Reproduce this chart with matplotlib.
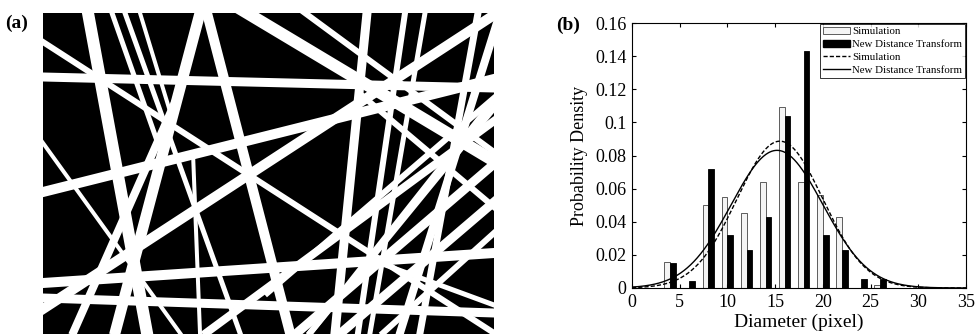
import numpy as np
import matplotlib
matplotlib.use("Agg")
import matplotlib.pyplot as plt
from matplotlib.patches import Patch
from matplotlib.lines import Line2D

plt.rcParams["font.family"] = ["Liberation Serif", "DejaVu Serif"]

# ---- panel (a): fibre image, endpoints in image pixels (x0, y0, x1, y1) and width ----
fib_x0 = [43, 43, 43, 43, 43, 43, 200, 207, 247, 43, 298, 342, 265, 88, 125, 405, 367, 478,
          305, 383, 359, 369, 73, 193, 112, 140, 500, 206, 425, 494, 310]
fib_y0 = [42, 77, 192, 283, 298, 143, 13, 13, 13, 309, 332, 332, 295, 13, 13, 13, 13, 13,
          13, 333, 93, 259, 333, 153, 13, 13, 13, 333, 13, 100, 333]
fib_x1 = [494, 494, 494, 494, 494, 180, 115, 290, 494, 494, 494, 494, 494, 147, 240, 358, 335, 420,
          494, 494, 494, 494, 177, 200, 162, 172, 400, 494, 370, 310, 494]
fib_y1 = [333, 88, 79, 253, 313, 333, 333, 333, 161, 15, 164, 202, 98, 333, 333, 333, 333, 333,
          152, 233, 207, 305, 98, 333, 155, 118, 333, 121, 333, 333, 108]
fib_w = [6, 9, 10, 10, 9, 4, 11, 10, 12, 10, 9, 9, 6, 12, 5, 6, 9, 7,
         6, 6, 6, 5, 8, 4, 5, 4, 8, 8, 5, 6, 6]

# ---- panel (b): histogram ----
bins = [4, 6, 8, 10, 12, 14, 16, 18, 20, 22, 24, 26]
sim_density = [0.016, 0.0, 0.050, 0.055, 0.045, 0.064, 0.109, 0.064, 0.056, 0.043, 0.0, 0.002]
ndt_density = [0.015, 0.004, 0.072, 0.032, 0.023, 0.043, 0.104, 0.143, 0.032, 0.023, 0.0054, 0.0054]
sim_mu, sim_sigma = 15.5, 4.5
ndt_mu, ndt_sigma = 15.2, 4.8

fig = plt.figure(figsize=(9.76, 3.34), dpi=100)

# fibre image
ax1 = fig.add_axes([43 / 976, 0, 451 / 976, 321 / 334])
ax1.set_facecolor("black")


def on_edge(x, y):
    return x <= 45 or x >= 492 or y <= 15 or y >= 331


for x0, y0, x1, y1, w in zip(fib_x0, fib_y0, fib_x1, fib_y1, fib_w):
    d = np.array([x1 - x0, y1 - y0], dtype=float)
    d /= np.hypot(*d)
    e0 = 20 if on_edge(x0, y0) else 0
    e1 = 20 if on_edge(x1, y1) else 0
    ax1.plot([x0 - e0 * d[0], x1 + e1 * d[0]], [y0 - e0 * d[1], y1 + e1 * d[1]],
             color="white", lw=w * 0.72, solid_capstyle="butt")
ax1.set_xlim(43, 494)
ax1.set_ylim(334, 13)
ax1.set_xticks([])
ax1.set_yticks([])
for s in ax1.spines.values():
    s.set_visible(False)
fig.text(5 / 976, 1 - 23 / 334, "(a)", fontsize=14, fontweight="bold", va="center")

# histogram
ax2 = fig.add_axes([632 / 976, 46 / 334, 334 / 976, 265 / 334])
b = np.array(bins, dtype=float)
ax2.bar(b - 0.3, sim_density, width=0.6, facecolor="#f4f4f4", edgecolor="#444444", lw=0.6)
ax2.bar(b + 0.3, ndt_density, width=0.6, facecolor="black", edgecolor="black", lw=0.6)
xs = np.linspace(0, 35, 400)
pdf = lambda x, m, s: np.exp(-(x - m) ** 2 / (2 * s * s)) / (s * np.sqrt(2 * np.pi))
ax2.plot(xs, pdf(xs, sim_mu, sim_sigma), "k--", lw=1.0, dashes=(3, 1.5))
ax2.plot(xs, pdf(xs, ndt_mu, ndt_sigma), "k-", lw=1.0)
ax2.set_xlim(0, 35)
ax2.set_ylim(0, 0.16)
ax2.set_xticks(range(0, 36, 5))
ax2.set_yticks(np.arange(0, 0.161, 0.02))
ax2.set_yticklabels(["0", "0.02", "0.04", "0.06", "0.08", "0.1", "0.12", "0.14", "0.16"])
ax2.tick_params(direction="in", top=True, right=True, labelsize=13, length=3, pad=4)
ax2.set_xlabel("Diameter (pixel)", fontsize=14, labelpad=2)
ax2.set_ylabel("Probability Density", fontsize=13, labelpad=5)

handles = [Patch(facecolor="#f4f4f4", edgecolor="#444444", lw=0.6),
           Patch(facecolor="black", edgecolor="black"),
           Line2D([], [], color="k", ls="--", lw=1.0, dashes=(3, 1.5)),
           Line2D([], [], color="k", lw=1.0)]
labels = ["Simulation", "New Distance Transform", "Simulation", "New Distance Transform"]
leg = ax2.legend(handles, labels, loc="upper right", fontsize=7.8, frameon=True, fancybox=False,
                 borderaxespad=0.1, handlelength=2.5, handletextpad=0.2, labelspacing=0.3,
                 borderpad=0.25)
leg.get_frame().set_edgecolor("black")
leg.get_frame().set_linewidth(0.7)
fig.text(556 / 976, 1 - 25 / 334, "(b)", fontsize=14, fontweight="bold", va="center")

fig.savefig("out.png", dpi=100)
